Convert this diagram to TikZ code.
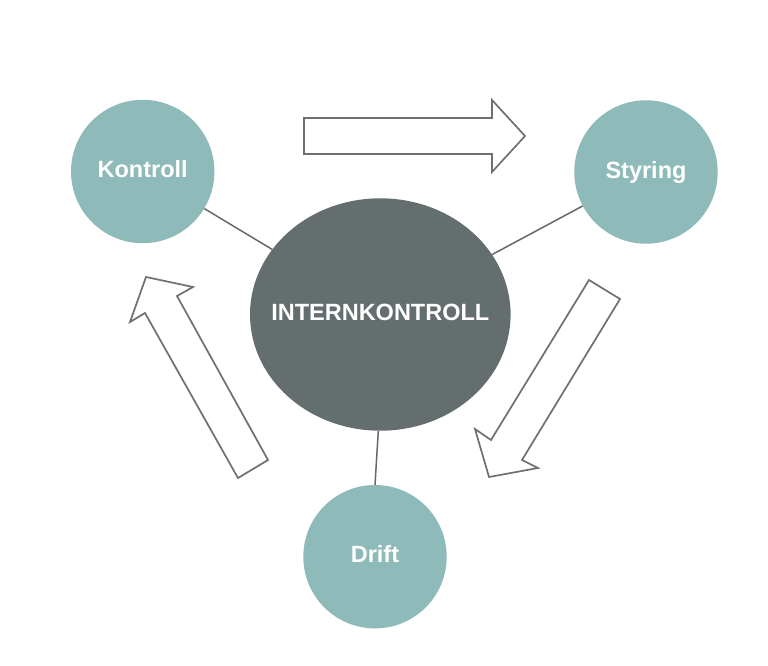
\documentclass[tikz,border=0pt]{standalone}
\usepackage{fontspec}
\setmainfont{Liberation Sans}
\usetikzlibrary{shapes.geometric}
\definecolor{teal}{RGB}{143,186,186}
\definecolor{darkgray}{RGB}{101,110,110}
\definecolor{arrowgray}{RGB}{112,112,112}
\definecolor{linegray}{RGB}{100,105,105}
\tikzset{
  lbl/.style={text=white,font=\bfseries\fontsize{23.5pt}{26pt}\selectfont,text height=16.8pt,text depth=4.5pt},
  topic/.style={circle,fill=teal,minimum size=143.4pt,inner sep=0pt,lbl},
  core/.style={ellipse,fill=darkgray,minimum width=260.6pt,minimum height=232.4pt,inner sep=0pt},
  conn/.style={draw=linegray,line width=1.5pt},
  bigarrow/.style={draw=arrowgray,line width=1.7pt,fill=white,line join=miter}
}
\begin{document}
\begin{tikzpicture}[x=1pt,y=-1pt]
\useasboundingbox (0,0) rectangle (768,665);
\fill[white] (0,0) rectangle (768,665);
\node[core,label={[lbl,inner sep=0pt]center:INTERNKONTROLL}] (C) at (380.3,314.5) {};
\node[topic] (K) at (142.7,171.5) {Kontroll};
\node[topic] (S) at (646,172) {Styring};
\node[topic] (D) at (375,556.7) {Drift};
\draw[conn] (K) -- (C);
\draw[conn] (S) -- (C);
\draw[conn] (C.south) ++(-2,0) coordinate (cs) -- (D.north);
% arrows
\draw[bigarrow] (304,118) -- (492,118) -- (492,100) -- (525,136) -- (492,172) -- (492,154) -- (304,154) -- cycle;
\draw[bigarrow] (589,280) -- (620,299) -- (522,460) -- (538,468) -- (489,477) -- (475,429) -- (491,440) -- cycle;
\draw[bigarrow] (146,277) -- (193,287) -- (177,296) -- (268,460) -- (238,478) -- (145,313) -- (130,322) -- cycle;
\end{tikzpicture}
\end{document}
